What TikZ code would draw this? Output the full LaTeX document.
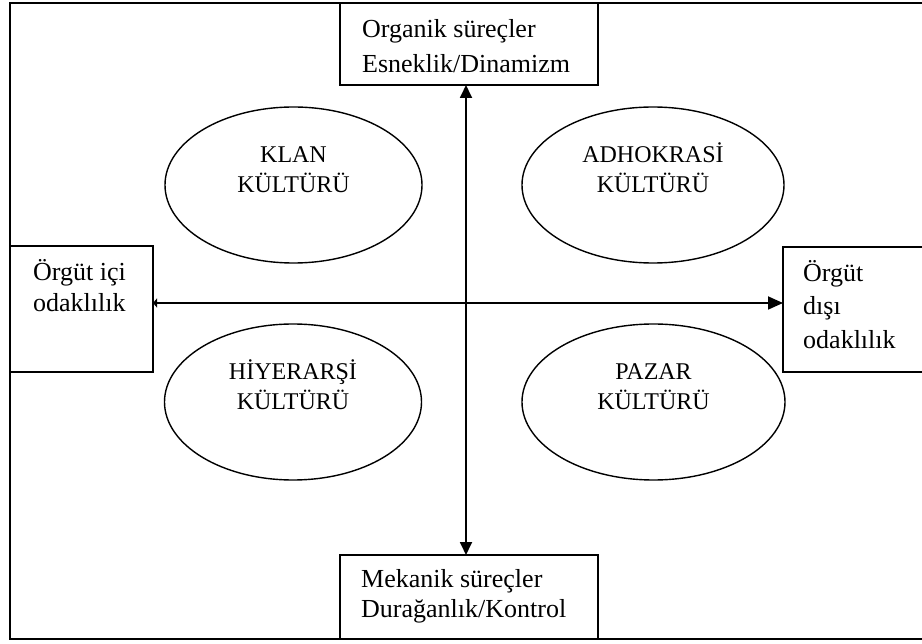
\documentclass[tikz,border=0pt]{standalone}
\usepackage{fontspec}
\setmainfont{Liberation Serif}
\usetikzlibrary{arrows.meta,shapes.geometric}
\begin{document}
\begin{tikzpicture}[x=1pt,y=-1pt,
  frame/.style={draw, line width=1.6pt},
  box/.style={draw, rectangle, line width=1.6pt, inner sep=0pt, outer sep=0pt},
  boxlbl/.style={inner sep=0pt, anchor=base west, font=\fontsize{26}{31}\selectfont},
  elllbl/.style={inner sep=0pt, anchor=base, font=\fontsize{24}{30}\selectfont},
  culture/.style={draw, ellipse, line width=1.4pt, minimum height=156pt, inner sep=0pt},
  axis/.style={line width=1.8pt}]
\useasboundingbox (0,0) rectangle (922,644);
\clip (0,0) rectangle (922,644);
\draw[frame] (10,3) rectangle (960,639);
% boxes
\node[box, minimum width=258pt, minimum height=82pt] (top) at (469,44) {};
\node[box, minimum width=258pt, minimum height=84pt] (bot) at (469,597) {};
\node[box, minimum width=143pt, minimum height=126pt] (lft) at (81.5,309) {};
\node[box, minimum width=177pt, minimum height=125pt] (rgt) at (871.5,309.5) {};
% box texts
\node[boxlbl] (t1) at (362,38) {Organik süreçler};
\node[boxlbl] (t2) at (362,73) {Esneklik/Dinamizm};
\node[boxlbl] (b1) at (361,587) {Mekanik süreçler};
\node[boxlbl] (b2) at (361,617) {Durağanlık/Kontrol};
\node[boxlbl] (l1) at (33,281) {Örgüt içi};
\node[boxlbl] (l2) at (33,312) {odaklılık};
\node[boxlbl] (r1) at (803,282) {Örgüt};
\node[boxlbl] (r2) at (803,315) {dışı};
\node[boxlbl] (r3) at (803,349) {odaklılık};
% ellipses
\node[culture, minimum width=257pt] (klan) at (293.5,185) {};
\node[culture, minimum width=262pt] (adho) at (653,185) {};
\node[culture, minimum width=257pt] (hiye) at (293,402) {};
\node[culture, minimum width=263pt] (paza) at (653.5,402) {};
\node[elllbl] (k1) at (293.5,163) {KLAN};
\node[elllbl] (k2) at (293.5,193) {KÜLTÜRÜ};
\node[elllbl] (a1) at (653,163) {ADHOKRASİ};
\node[elllbl] (a2) at (653,193) {KÜLTÜRÜ};
\node[elllbl] (h1) at (293,380) {HİYERARŞİ};
\node[elllbl] (h2) at (293,410) {KÜLTÜRÜ};
\node[elllbl] (p1) at (653.5,380) {PAZAR};
\node[elllbl] (p2) at (653.5,410) {KÜLTÜRÜ};
% axes
\coordinate (vx) at (466,0);
\coordinate (hy) at (0,303);
\draw[axis, {Triangle[length=13pt,width=12pt]}-{Triangle[length=13pt,width=12pt]}]
  (top.south -| vx) -- (bot.north -| vx);
\draw[axis, {Triangle[length=4pt,width=9pt]}-{Triangle[length=15pt,width=13pt]}]
  (lft.east |- hy) -- (rgt.west |- hy);
\end{tikzpicture}
\end{document}
